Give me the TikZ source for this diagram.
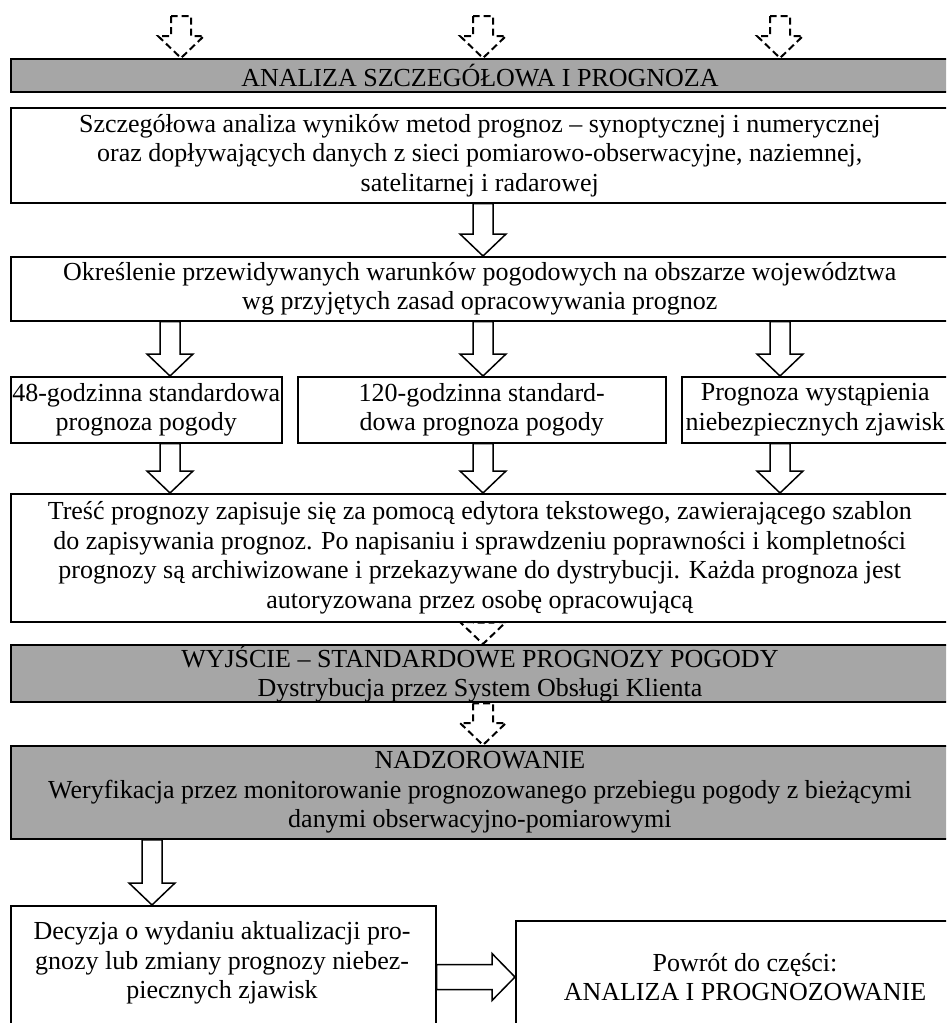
\documentclass[tikz,border=0pt]{standalone}
\usepackage{fontspec}
\setmainfont{Liberation Serif}
\usetikzlibrary{calc}
\definecolor{hdrgray}{RGB}{166,166,166}
\begin{document}
\begin{tikzpicture}[x=1pt,y=-1pt,
  every node/.style={font=\fontsize{26}{29.5}\selectfont, align=center, inner sep=0pt},
  frame/.style={draw, line width=1.5pt, rectangle, anchor=north west},
  plainbox/.style={frame, fill=white},
  graybox/.style={frame, fill=hdrgray, line width=1.9pt},
  txt/.style={fill=none, draw=none},
  % hollow block arrow pointing down, drawn from the start point to the target point
  blk/.style={draw, line width=1.5pt, fill=white, line join=miter,
    to path={let \p1=(\tikztostart), \p2=(\tikztotarget) in
      (\x1-10pt,\y1) -- (\x1-10pt,\y2+22pt) -- (\x1-23pt,\y2+22pt) -- (\x1,\y2)
      -- (\x1+23pt,\y2+22pt) -- (\x1+10pt,\y2+22pt) -- (\x1+10pt,\y1) -- cycle}},
  dblk/.style={blk, fill=none, line width=2pt, dash pattern=on 7pt off 4pt},
  % hollow block arrow pointing right
  hblk/.style={draw, line width=1.5pt, fill=white, line join=miter,
    to path={let \p1=(\tikztostart), \p2=(\tikztotarget) in
      (\x1,\y1+12.5pt) -- (\x2-23pt,\y1+12.5pt) -- (\x2-23pt,\y1+23.5pt) -- (\x2,\y1)
      -- (\x2-23pt,\y1-23.5pt) -- (\x2-23pt,\y1-12.5pt) -- (\x1,\y1-12.5pt) -- cycle}}
]
\useasboundingbox (0,0) rectangle (946,1023);
\clip (0,0) rectangle (946,1023);

% column positions of the arrows
\coordinate (tL) at (181,16);
\coordinate (tM) at (483,16);
\coordinate (tR) at (780,16);
\coordinate (cL) at (170,0);
\coordinate (cM) at (483,0);
\coordinate (cR) at (780,0);
\coordinate (cD) at (152,0);

% boxes
\node[graybox, minimum width=938, minimum height=33] (h1) at (10,58) {ANALIZA SZCZEGÓŁOWA I PROGNOZA};
\node[plainbox, minimum width=938, minimum height=95] (b2) at (10,107)
  {Szczegółowa analiza wyników metod prognoz – synoptycznej i numerycznej\\
   oraz dopływających danych z sieci pomiarowo-obserwacyjne, naziemnej,\\
   satelitarnej i radarowej};
\node[plainbox, minimum width=938, minimum height=64] (b3) at (10,256)
  {Określenie przewidywanych warunków pogodowych na obszarze województwa\\
   wg przyjętych zasad opracowywania prognoz};
\node[plainbox, minimum width=271, minimum height=66] (rA) at (10,376)
  {48-godzinna standardowa\\ prognoza pogody};
\node[plainbox, minimum width=368, minimum height=66] (rB) at (297,376)
  {120-godzinna standard-\\ dowa prognoza pogody};
\node[plainbox, minimum width=267, minimum height=66] (rC) at (681,376)
  {Prognoza wystąpienia\\ niebezpiecznych zjawisk};
\node[plainbox, minimum width=938, minimum height=128] (b4) at (10,493)
  {Treść prognozy zapisuje się za pomocą edytora tekstowego, zawierającego szablon\\
   do zapisywania prognoz. Po napisaniu i sprawdzeniu poprawności i kompletności\\
   prognozy są archiwizowane i przekazywane do dystrybucji. Każda prognoza jest\\
   autoryzowana przez osobę opracowującą};
\node[graybox, minimum width=938, minimum height=57] (h2) at (10,644)
  {\fontsize{26}{27}\selectfont WYJŚCIE – STANDARDOWE PROGNOZY POGODY\\ Dystrybucja przez System Obsługi Klienta};
\node[graybox, minimum width=938, minimum height=93] (h3) at (10,745)
  {NADZOROWANIE\\
   Weryfikacja przez monitorowanie prognozowanego przebiegu pogody z bieżącymi\\
   danymi obserwacyjno-pomiarowymi};
\node[plainbox, minimum width=425, minimum height=140] (dec) at (10,905) {};
\node[txt] (dectext) at (222,963)
  {Decyzja o wydaniu aktualizacji pro-\\ gnozy lub zmiany prognozy niebez-\\ piecznych zjawisk};
\node[plainbox, minimum width=470, minimum height=130] (ret) at (515,920) {};
\node[txt] (rettext) at (745,977) {Powrót do części:\\ ANALIZA I PROGNOZOWANIE};

% incoming dashed arrows
\draw[dblk] (tL) to (h1.north -| tL);
\draw[dblk] (tM) to (h1.north -| tM);
\draw[dblk] (tR) to (h1.north -| tR);

% flow arrows
\draw[blk] (b2.south -| cM) to (b3.north -| cM);
\draw[blk] (b3.south -| cL) to (rA.north -| cL);
\draw[blk] (b3.south -| cM) to (rB.north -| cM);
\draw[blk] (b3.south -| cR) to (rC.north -| cR);
\draw[blk] (rA.south -| cL) to (b4.north -| cL);
\draw[blk] (rB.south -| cM) to (b4.north -| cM);
\draw[blk] (rC.south -| cR) to (b4.north -| cR);
\draw[dblk] (b4.south -| cM) to (h2.north -| cM);
\draw[dblk] (h2.south -| cM) to (h3.north -| cM);
\draw[blk] (h3.south -| cD) to (dec.north -| cD);
\draw[hblk] (dec.east |- rettext) to (ret.west |- rettext);
\end{tikzpicture}
\end{document}
